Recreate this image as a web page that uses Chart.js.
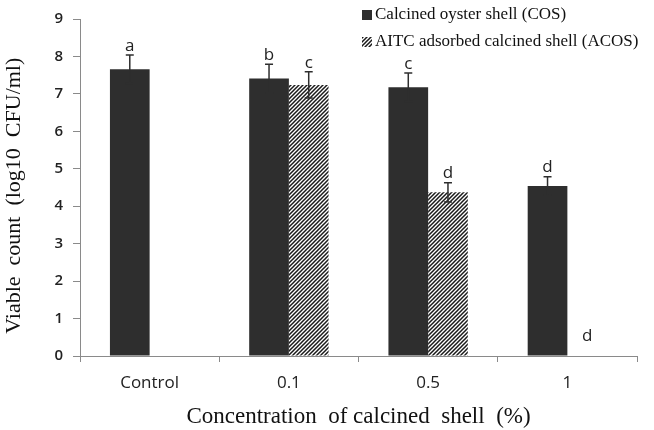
<!DOCTYPE html>
<html>
<head>
<meta charset="utf-8">
<script src="https://cdn.jsdelivr.net/npm/chart.js@4.4.1/dist/chart.umd.min.js"></script>
<style>
  html, body { margin: 0; padding: 0; background: #fff; }
  #wrap { width: 654px; height: 430px; }
</style>
</head>
<body>
<div id="wrap"><canvas id="chart" width="654" height="430"></canvas></div>
<script>
'use strict';

// ── Data ─────────────────────────────────────────────
const categories  = ['Control', '0.1', '0.5', '1'];
const cosValues   = [7.66, 7.41, 7.18, 4.54];
const cosErrors   = [0.38, 0.38, 0.38, 0.25];
const cosLetters  = ['a', 'b', 'c', 'd'];
const acosValues  = [null, 7.24, 4.37, 0];
const acosErrors  = [null, 0.35, 0.26, 0];
const acosLetters = [null, 'c', 'd', 'd'];
const yMin = 0, yMax = 9, yStep = 1;

const cosLabel  = 'Calcined oyster shell (COS)';
const acosLabel = 'AITC adsorbed calcined shell (ACOS)';

const BAR  = '#2e2e2e';
const AXIS = '#8a8a8a';
const SERIF = '"Liberation Serif", "Times New Roman", serif';
const SANS  = '"Open Sans", "Noto Sans", sans-serif';

// ── Hatch pattern ────────────────────────────────────
function makeHatch() {
  const c = document.createElement('canvas');
  c.width = 4; c.height = 4;
  const g = c.getContext('2d');
  g.fillStyle = '#fff';
  g.fillRect(0, 0, 4, 4);
  g.strokeStyle = '#1a1a1a';
  g.lineWidth = 1.5;
  g.beginPath();
  g.moveTo(-1, 5); g.lineTo(5, -1);
  g.moveTo(-1, 1); g.lineTo(1, -1);
  g.moveTo(3, 5);  g.lineTo(5, 3);
  g.stroke();
  return g.createPattern(c, 'repeat');
}
const hatch = makeHatch();

// ── Error bars + letters + legend ────────────────────
const extras = {
  id: 'extras',
  afterDatasetsDraw(chart) {
    const ctx = chart.ctx;
    const y = chart.scales.y;
    const sets = [
      { vals: cosValues,  errs: cosErrors,  letters: cosLetters },
      { vals: acosValues, errs: acosErrors, letters: acosLetters }
    ];
    ctx.save();
    sets.forEach((s, di) => {
      const meta = chart.getDatasetMeta(di);
      s.vals.forEach((v, i) => {
        if (v === null) return;
        const x = meta.data[i].x;
        const e = s.errs[i] || 0;
        if (e > 0) {
          const yt = y.getPixelForValue(v + e);
          const yb = y.getPixelForValue(v - e);
          ctx.strokeStyle = BAR;
          ctx.lineWidth = 1.5;
          ctx.beginPath();
          ctx.moveTo(x, yt); ctx.lineTo(x, yb);
          ctx.moveTo(x - 4, yt); ctx.lineTo(x + 4, yt);
          ctx.moveTo(x - 4, yb); ctx.lineTo(x + 4, yb);
          ctx.stroke();
        }
        if (s.letters[i]) {
          const ly = v === 0 ? y.getPixelForValue(0) - 20 : y.getPixelForValue(v + e) - 9;
          ctx.fillStyle = '#222';
          ctx.font = '17px ' + SANS;
          ctx.textAlign = 'center';
          ctx.textBaseline = 'middle';
          ctx.fillText(s.letters[i], x, ly);
        }
      });
    });
    ctx.restore();
  },
  afterDraw(chart) {
    const ctx = chart.ctx;
    ctx.save();
    ctx.font = '17px ' + SERIF;
    ctx.textAlign = 'left';
    ctx.textBaseline = 'middle';
    ctx.fillStyle = BAR;
    ctx.fillRect(362, 10, 10, 10);
    ctx.fillStyle = hatch;
    ctx.fillRect(362, 37, 10, 10);
    ctx.fillStyle = '#111';
    ctx.fillText(cosLabel, 375, 15);
    ctx.fillText(acosLabel, 375, 42);
    ctx.restore();
  }
};

// ── Chart ────────────────────────────────────────────
new Chart(document.getElementById('chart').getContext('2d'), {
  type: 'bar',
  data: {
    labels: categories,
    datasets: [
      { label: cosLabel,  data: cosValues,  backgroundColor: BAR,   borderWidth: 0 },
      { label: acosLabel, data: acosValues, backgroundColor: hatch, borderWidth: 0 }
    ]
  },
  options: {
    responsive: false,
    animation: false,
    devicePixelRatio: 1,
    categoryPercentage: 0.57,
    barPercentage: 1.0,
    layout: { padding: { top: 13, right: 17, bottom: 0, left: 0 } },
    plugins: {
      legend: { display: false },
      tooltip: { enabled: false }
    },
    scales: {
      x: {
        afterFit: s => { s.height = 74; },
        grid: { display: true, drawOnChartArea: false, color: AXIS, tickLength: 6 },
        border: { display: true, color: AXIS, width: 1 },
        ticks: { color: '#222', padding: 11, font: { size: 17, family: SANS } },
        title: {
          display: true,
          text: 'Concentration  of calcined  shell  (%)',
          color: '#111',
          font: { size: 23, family: SERIF },
          padding: { top: 0, bottom: -1 }
        }
      },
      y: {
        min: yMin,
        max: yMax,
        afterFit: s => { s.width = 80; },
        grid: { display: true, drawOnChartArea: false, color: AXIS, tickLength: 7 },
        border: { display: true, color: AXIS, width: 1 },
        ticks: { stepSize: yStep, color: '#222', padding: 10, font: { size: 15, family: SANS, weight: '600' } },
        title: {
          display: true,
          // trailing spaces nudge the rotated title down to sit like the original
          text: 'Viable  count  (log10  CFU/ml)\u00a0\u00a0\u00a0',
          color: '#111',
          font: { size: 22, family: SERIF },
          padding: { top: 1, bottom: 0 }
        }
      }
    }
  },
  plugins: [extras]
});
</script>
</body>
</html>
